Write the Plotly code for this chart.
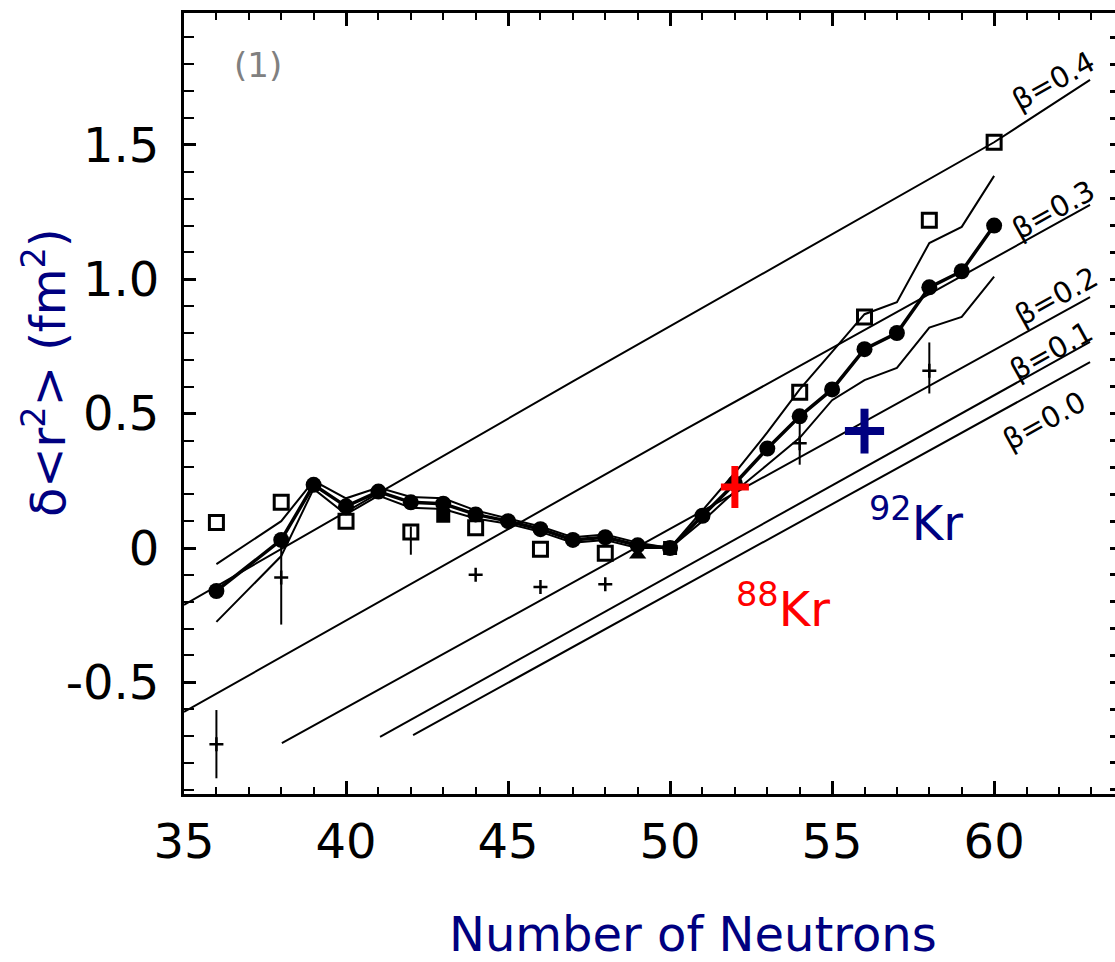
import plotly.graph_objects as go

# ---------------- data ----------------
# main data set: filled circles with upper / lower systematic envelopes
n_main = [36, 38, 39, 40, 41, 42, 43, 44, 45, 46, 47, 48, 49, 50,
          51, 52, 53, 54, 55, 56, 57, 58, 59, 60]
dr2_main = [-0.16, 0.03, 0.235, 0.155, 0.21, 0.17, 0.165, 0.125, 0.10, 0.07, 0.03, 0.04, 0.01, 0.0,
            0.12, 0.24, 0.37, 0.49, 0.59, 0.74, 0.80, 0.97, 1.03, 1.20]
dr2_upper = [-0.06, 0.10, 0.25, 0.185, 0.225, 0.19, 0.185, 0.14, 0.11, 0.08, 0.04, 0.05, 0.02, 0.0,
             0.14, 0.28, 0.43, 0.59, 0.73, 0.87, 0.915, 1.135, 1.195, 1.385]
dr2_lower = [-0.275, -0.03, 0.22, 0.125, 0.195, 0.15, 0.145, 0.11, 0.09, 0.06, 0.02, 0.03, 0.0, 0.0,
             0.10, 0.21, 0.31, 0.41, 0.55, 0.625, 0.67, 0.82, 0.86, 1.01]

# open squares
n_sq = [36, 38, 40, 42, 44, 46, 48, 54, 56, 58, 60]
dr2_sq = [0.095, 0.17, 0.10, 0.06, 0.075, -0.005, -0.02, 0.58, 0.86, 1.22, 1.51]
sq_err_plus = [0, 0, 0, 0.02, 0, 0, 0, 0, 0, 0, 0]
sq_err_minus = [0, 0, 0, 0.085, 0, 0, 0, 0, 0, 0, 0]

# small crosses with error bars
n_cr = [36, 38, 44, 46, 48, 54, 58]
dr2_cr = [-0.73, -0.11, -0.10, -0.145, -0.135, 0.39, 0.66]
cr_err_plus = [0.127, 0.14, 0, 0, 0, 0.08, 0.105]
cr_err_minus = [0.127, 0.175, 0, 0, 0, 0.08, 0.085]

# other filled symbols
n_fsq = [43, 50]
dr2_fsq = [0.12, 0.0]
n_tri = [49]
dr2_tri = [-0.025]

# droplet-model iso-deformation lines
beta_labels = ["β=0.4", "β=0.3", "β=0.2", "β=0.1", "β=0.0"]
beta_n = [[35, 47, 60, 62.96],
          [35, 50.3, 62.96],
          [38.02, 62.96],
          [41.05, 62.96],
          [42.07, 62.96]]
beta_y = [[-0.212, 0.62, 1.51, 1.742],
          [-0.61, 0.43, 1.277],
          [-0.726, 0.934],
          [-0.703, 0.767],
          [-0.696, 0.692]]
beta_label_n = [61.82, 61.82, 61.94, 61.76, 61.54]
beta_label_y = [1.738, 1.258, 0.936, 0.733, 0.472]

# highlighted isotopes
kr88_n, kr88_y = [52], [0.227]
kr92_n, kr92_y = [56], [0.435]

x_tick_vals = [35, 40, 45, 50, 55, 60]
x_tick_text = ["35", "40", "45", "50", "55", "60"]
y_tick_vals = [-0.5, 0, 0.5, 1.0, 1.5]
y_tick_text = ["-0.5", "0", "0.5", "1.0", "1.5"]

# ---------------- figure ----------------
FONT = "DejaVu Sans"
NAVY = "#000080"
fig = go.Figure()

for bn, by in zip(beta_n, beta_y):
    fig.add_trace(go.Scatter(x=bn, y=by, mode="lines", line=dict(color="black", width=2),
                             showlegend=False, hoverinfo="skip"))

fig.add_trace(go.Scatter(x=n_main, y=dr2_upper, mode="lines",
                         line=dict(color="black", width=2), showlegend=False))
fig.add_trace(go.Scatter(x=n_main, y=dr2_lower, mode="lines",
                         line=dict(color="black", width=2), showlegend=False))
fig.add_trace(go.Scatter(x=n_main, y=dr2_main, mode="lines+markers",
                         line=dict(color="black", width=3.5),
                         marker=dict(symbol="circle", size=16, color="black"),
                         showlegend=False))
fig.add_trace(go.Scatter(x=n_fsq, y=dr2_fsq, mode="markers",
                         marker=dict(symbol="square", size=14, color="black"), showlegend=False))
fig.add_trace(go.Scatter(x=n_tri, y=dr2_tri, mode="markers",
                         marker=dict(symbol="triangle-up", size=15, color="black"), showlegend=False))

fig.add_trace(go.Scatter(x=n_sq, y=dr2_sq, mode="markers",
                         marker=dict(symbol="square-open", size=14, color="black",
                                     line=dict(width=3, color="black")),
                         error_y=dict(type="data", array=sq_err_plus, arrayminus=sq_err_minus,
                                      symmetric=False, color="black", thickness=2, width=0),
                         showlegend=False))

fig.add_trace(go.Scatter(x=n_cr, y=dr2_cr, mode="markers",
                         marker=dict(symbol="cross-thin", size=10,
                                     line=dict(width=2.5, color="black")),
                         error_y=dict(type="data", array=cr_err_plus, arrayminus=cr_err_minus,
                                      symmetric=False, color="black", thickness=2, width=0),
                         showlegend=False))

# coloured crosses for 88Kr and 92Kr
fig.add_trace(go.Scatter(x=kr88_n, y=kr88_y, mode="markers",
                         marker=dict(symbol="line-ns", size=30, line=dict(width=7, color="#ff0000")),
                         showlegend=False))
fig.add_trace(go.Scatter(x=kr88_n, y=kr88_y, mode="markers",
                         marker=dict(symbol="line-ew", size=20, line=dict(width=7, color="#ff0000")),
                         showlegend=False))
fig.add_trace(go.Scatter(x=kr92_n, y=kr92_y, mode="markers",
                         marker=dict(symbol="line-ns", size=32, line=dict(width=8, color=NAVY)),
                         showlegend=False))
fig.add_trace(go.Scatter(x=kr92_n, y=kr92_y, mode="markers",
                         marker=dict(symbol="line-ew", size=28, line=dict(width=8, color=NAVY)),
                         showlegend=False))

# invisible trace for the right-hand tick axis
fig.add_trace(go.Scatter(x=[35], y=[0], yaxis="y2", mode="markers",
                         marker=dict(opacity=0), showlegend=False, hoverinfo="skip"))

annotations = []
for lab, ln, ly in zip(beta_labels, beta_label_n, beta_label_y):
    annotations.append(dict(x=ln, y=ly, xref="x", yref="y", text=lab, showarrow=False,
                            xanchor="center", yanchor="middle",
                            textangle=-29, font=dict(family=FONT, size=29, color="black")))
annotations += [
    dict(x=37.28, y=1.798, xref="x", yref="y", text="(1)", showarrow=False,
         xanchor="center", yanchor="middle",
         font=dict(family=FONT, size=34, color="#808080")),
    dict(x=53.49, y=-0.216, xref="x", yref="y", text="<sup>88</sup>Kr", showarrow=False,
         xanchor="center", yanchor="middle",
         font=dict(family=FONT, size=48, color="#ff0000")),
    dict(x=57.59, y=0.104, xref="x", yref="y", text="<sup>92</sup>Kr", showarrow=False,
         xanchor="center", yanchor="middle",
         font=dict(family=FONT, size=48, color=NAVY)),
    dict(x=0.5467, y=-0.1793, xref="paper", yref="paper", text="Number of Neutrons",
         xanchor="center", yanchor="middle",
         showarrow=False, font=dict(family=FONT, size=48, color=NAVY)),
    dict(x=-0.1493, y=0.539, xref="paper", yref="paper",
         text="δ&lt;r<sup>2</sup>&gt; (fm<sup>2</sup>)", textangle=-90,
         xanchor="center", yanchor="middle",
         showarrow=False, font=dict(family=FONT, size=48, color=NAVY)),
]

YR = [-0.9155, 1.991]
fig.update_layout(
    width=1115, height=962,
    margin=dict(l=184, r=0, t=13, b=168),
    paper_bgcolor="white", plot_bgcolor="white",
    font=dict(family=FONT, color="black"),
    showlegend=False,
    annotations=annotations,
    xaxis=dict(range=[35, 63.73], showline=True, linewidth=3, linecolor="black",
               mirror="ticks", ticks="inside", ticklen=13, tickwidth=2.5, tickcolor="black",
               tickvals=x_tick_vals, ticktext=x_tick_text,
               tickfont=dict(family=FONT, size=48, color="black"),
               ticklabelstandoff=3,
               minor=dict(ticks="inside", ticklen=7, tickwidth=2, tickcolor="black",
                          dtick=1, tick0=35, showgrid=False),
               showgrid=False, zeroline=False),
    yaxis=dict(range=YR, showline=True, linewidth=3, linecolor="black",
               ticks="inside", ticklen=12, tickwidth=2.5, tickcolor="black",
               tickvals=y_tick_vals, ticktext=y_tick_text,
               tickfont=dict(family=FONT, size=48, color="black"),
               ticklabelstandoff=12,
               minor=dict(ticks="inside", ticklen=10, tickwidth=2, tickcolor="black",
                          dtick=0.1, tick0=0, showgrid=False),
               showgrid=False, zeroline=False),
    yaxis2=dict(range=YR, overlaying="y", side="right", anchor="x",
                showline=False, ticks="inside", ticklen=5, tickwidth=3, tickcolor="black",
                dtick=0.1, tick0=0, showticklabels=False, showgrid=False, zeroline=False),
)

fig.write_html("out.html")
